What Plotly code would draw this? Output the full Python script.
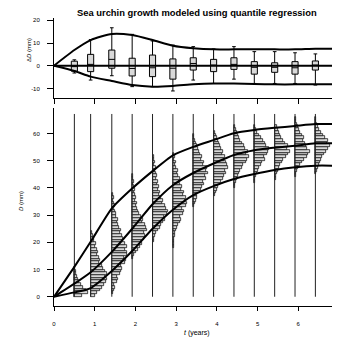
import plotly.graph_objects as go

# ---------------- data ----------------
t_pos = [0.5, 0.9, 1.42, 1.92, 2.42, 2.92, 3.42, 3.92, 4.42, 4.92, 5.42, 5.92, 6.42, 6.92]

# boxplots of growth residuals (Delta D, mm)
box_q3 = [2.0, 5.0, 6.9, 3.3, 4.7, 3.0, 3.5, 2.8, 3.5, 1.8, 1.3, 1.8, 2.1, 2.1]
box_med = [-0.4, 0.6, 2.8, -1.2, -0.9, -1.1, 1.0, 0.3, 0.6, -0.7, -0.7, -0.9, 0.3, 0.0]
box_q1 = [-2.4, -2.6, -1.1, -4.5, -4.8, -5.9, -1.9, -2.6, -1.6, -3.7, -2.9, -3.7, -1.9, -2.3]
box_hi = [2.6, 11.5, 16.7, 13.8, 10.9, 9.1, 8.4, 7.4, 8.4, 6.2, 6.2, 5.7, 5.2, 4.7]
box_lo = [-3.2, -6.3, -4.4, -9.2, -9.2, -11.1, -6.3, -7.8, -5.9, -7.8, -7.8, -7.8, -8.5, -7.0]

# envelope curves, top panel
env_t = [0, 0.5, 0.9, 1.42, 1.92, 2.42, 2.92, 3.42, 3.92, 4.42, 4.92, 5.42, 5.92, 6.42, 6.92, 7]
env_up = [0, 6.9, 11.3, 14.0, 13.5, 11.3, 8.8, 7.7, 7.2, 7.2, 7.2, 7.2, 7.2, 7.5, 7.5, 7.5]
env_lo = [0, -2.3, -4.8, -6.7, -8.5, -9.2, -8.9, -8.2, -7.8, -7.8, -8.0, -8.2, -8.2, -8.2, -8.2, -8.2]
env_mid = [0] * len(env_t)

# quantile curves, bottom panel (D, mm)
q_t = env_t
q_upper = [0, 11.0, 20.2, 32.5, 39.8, 46.2, 52.0, 55.1, 57.6, 60.1, 61.3, 62.1, 62.8, 63.5, 63.5, 63.5]
q_median = [0, 4.8, 9.0, 16.5, 25.0, 34.0, 41.0, 45.5, 49.0, 52.1, 53.9, 54.8, 55.5, 56.4, 56.4, 56.4]
q_lower = [0, 1.6, 3.2, 9.5, 16.8, 25.0, 32.0, 37.4, 40.7, 43.3, 45.1, 46.6, 47.6, 48.2, 48.2, 48.2]

# histograms of D at each age: first bin (mm) and frequencies per 1-mm bin
hist_start = [0, 0, 1, 14, 20, 18, 33, 37, 40, 42, 43, 44, 45, 46]
hist_counts = [
    [8, 14, 12, 9, 7, 5, 4, 3, 2, 2, 1],
    [4, 6, 9, 11, 13, 15, 16, 14, 16, 14, 12, 11, 8, 9, 8, 6, 7, 6, 4, 5, 3, 3, 2, 1],
    [1, 2, 3, 2, 5, 6, 5, 8, 9, 10, 9, 13, 14, 12, 15, 15, 13, 15, 13, 10, 11, 10, 8, 9, 7, 6, 5, 6, 4, 4, 3, 2, 3, 2, 1, 2, 1],
    [1, 2, 4, 6, 8, 10, 9, 12, 13, 12, 15, 14, 13, 10, 11, 9, 7, 6, 5, 4, 5, 3, 4, 3, 2, 3, 2, 1, 2, 1, 1],
    [1, 1, 2, 3, 5, 7, 8, 10, 12, 11, 14, 15, 13, 12, 9, 10, 8, 6, 7, 5, 6, 4, 5, 3, 4, 3, 2, 3, 1, 2, 1, 1],
    [1, 1, 1, 1, 2, 2, 3, 4, 5, 7, 8, 7, 10, 11, 9, 13, 14, 12, 13, 10, 11, 8, 9, 7, 6, 7, 5, 4, 5, 3, 2, 3, 1, 2, 1],
    [1, 2, 3, 4, 4, 7, 8, 9, 11, 10, 13, 12, 15, 13, 14, 10, 11, 8, 9, 7, 6, 5, 4, 3, 2, 1, 1],
    [1, 2, 3, 4, 6, 7, 9, 10, 12, 11, 14, 13, 12, 10, 11, 8, 9, 7, 6, 5, 4, 3, 2, 1],
    [1, 1, 2, 3, 4, 5, 6, 8, 9, 12, 13, 15, 12, 14, 11, 10, 8, 6, 5, 4, 3, 2, 1],
    [1, 1, 2, 3, 4, 5, 7, 8, 11, 10, 13, 14, 15, 12, 11, 9, 7, 5, 3, 2, 1],
    [1, 1, 2, 3, 4, 5, 7, 8, 11, 13, 15, 12, 13, 10, 8, 6, 5, 4, 3, 2],
    [1, 1, 2, 3, 5, 7, 9, 12, 13, 15, 12, 11, 10, 8, 9, 7, 5, 4, 3, 2, 1, 1],
    [1, 2, 3, 4, 5, 6, 7, 9, 11, 13, 15, 12, 13, 10, 8, 6, 4, 3, 2, 1, 1],
    [1, 2, 3, 4, 5, 7, 9, 11, 13, 14, 12, 11, 9, 7, 5, 4, 3, 2, 1, 1],
]

x_ticks = [0, 1, 2, 3, 4, 5, 6, 7]
y_top_ticks = [-10, 0, 10, 20]
y_top_text = ["-10", "0", "10", "20"]
y_bot_ticks = [0, 10, 20, 30, 40, 50, 60]

# ---------------- styles ----------------
HIST_SCALE = 1 / 40.7    # years of bar length per unit of frequency
VLINE_TOP = 67.2
FONT = "Liberation Sans"
GRAY = "#d9d9d9"
PAGE_OFFSET = 8          # default body margin of the html page

fig = go.Figure()

# vertical reference lines at each age (bottom panel)
vx, vy = [], []
for t in t_pos:
    vx += [t, t, None]
    vy += [0, VLINE_TOP, None]
fig.add_trace(go.Scatter(x=vx, y=vy, mode="lines", line=dict(color="#222222", width=1),
                         hoverinfo="skip", showlegend=False, xaxis="x", yaxis="y"))

# histograms
for t, s, c in zip(t_pos, hist_start, hist_counts):
    fig.add_trace(go.Bar(
        orientation="h",
        y=[s + k + 0.5 for k in range(len(c))],
        x=[v * HIST_SCALE for v in c],
        base=t, width=1.0,
        marker=dict(color=GRAY, line=dict(color="#000000", width=0.7)),
        showlegend=False, xaxis="x", yaxis="y"))

# quantile curves
for q in (q_upper, q_median, q_lower):
    fig.add_trace(go.Scatter(x=q_t, y=q, mode="lines",
                             line=dict(color="black", width=2, shape="spline", smoothing=0.6),
                             showlegend=False, xaxis="x", yaxis="y"))

# top panel envelopes
for e in (env_up, env_mid, env_lo):
    fig.add_trace(go.Scatter(x=env_t, y=e, mode="lines",
                             line=dict(color="black", width=2, shape="spline", smoothing=0.6),
                             showlegend=False, xaxis="x2", yaxis="y2"))

# boxplots
fig.add_trace(go.Box(
    x=t_pos, q1=box_q1, median=box_med, q3=box_q3,
    lowerfence=box_lo, upperfence=box_hi,
    width=0.15, whiskerwidth=0.6,
    fillcolor=GRAY, line=dict(color="black", width=1),
    showlegend=False, xaxis="x2", yaxis="y2"))

ax_common = dict(showline=True, linecolor="black", linewidth=1, ticks="outside",
                 tickcolor="black", showgrid=False, zeroline=False, automargin=False,
                 ticklabeloverflow="allow",
                 tickfont=dict(family=FONT, size=6, color="black"))

W, H = 340 - PAGE_OFFSET, 348 - PAGE_OFFSET
L, T = 54 - PAGE_OFFSET, 18 - PAGE_OFFSET
fig.update_layout(
    width=W, height=H,
    margin=dict(l=L, r=W - L - 285, t=T, b=H - T - 288, autoexpand=False),
    paper_bgcolor="white", plot_bgcolor="white",
    barmode="overlay", bargap=0,
    showlegend=False,
    xaxis=dict(domain=[0, 1], range=[0, 7], anchor="y", tickvals=x_ticks, ticklen=4,
               ticklabelstandoff=8, **ax_common),
    yaxis=dict(domain=[0, 0.6875], range=[-3.4, 69.4], anchor="x", tickvals=y_bot_ticks,
               ticklen=6, ticklabelstandoff=6, **ax_common),
    xaxis2=dict(domain=[0, 1], range=[0, 7], anchor="y2", tickvals=x_ticks, ticklen=5,
                showticklabels=False, **ax_common),
    yaxis2=dict(domain=[0.7222, 1], range=[-14.2, 21.0], anchor="x2", tickvals=y_top_ticks,
                ticktext=y_top_text, ticklen=6, ticklabelstandoff=6, **ax_common),
    annotations=[
        dict(text="<b>Sea urchin growth modeled using quantile regression</b>",
             xref="paper", yref="paper", x=0.5, y=(306 - 13) / 288, xanchor="center",
             yanchor="middle", showarrow=False, font=dict(family=FONT, size=9.4, color="black")),
        dict(text="Δ<i>D</i> (mm)", xref="paper", yref="paper", x=(29 - 54) / 285,
             y=(306 - 50) / 288, textangle=-90, xanchor="center", yanchor="middle",
             showarrow=False, font=dict(family=FONT, size=6, color="black")),
        dict(text="<i>D</i> (mm)", xref="paper", yref="paper", x=(21 - 54) / 285,
             y=(306 - 201) / 288, textangle=-90, xanchor="center", yanchor="middle",
             showarrow=False, font=dict(family=FONT, size=6, color="black")),
        dict(text="<i>t</i> (years)", xref="paper", yref="paper", x=0.5,
             y=(306 - 333) / 288, xanchor="center", yanchor="middle",
             showarrow=False, font=dict(family=FONT, size=7, color="black")),
    ],
)

fig.write_html("out.html")
